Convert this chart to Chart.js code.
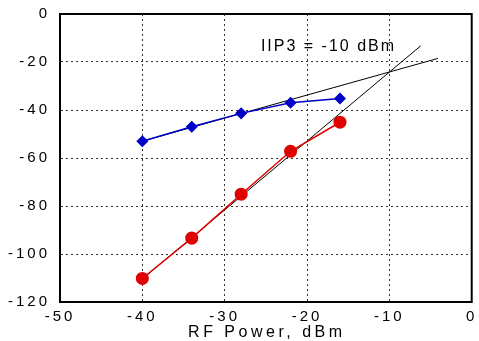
<!DOCTYPE html>
<html>
<head>
<meta charset="utf-8">
<script src="https://cdn.jsdelivr.net/npm/chart.js"></script>
<style>
  html, body { margin: 0; padding: 0; background: #fff; }
  #wrap { width: 479px; height: 341px; position: relative; }
</style>
</head>
<body>
<div id="wrap"><canvas id="chart"></canvas></div>
<script>
// measured output power vs RF input power
const inputPower = [-40, -34, -28, -22, -16];
const fundamental = [-53, -47, -41.4, -37, -35.2];
const thirdOrder = [-110.2, -93.4, -75.1, -57.2, -45.1];

// extrapolated fits (end points)
const fundFitX = [-40, -4.1];
const fundFitY = [-53, -18.5];
const im3FitX = [-40, -6.2];
const im3FitY = [-110.4, -13.3];

const xTicks = [-50, -40, -30, -20, -10, 0];
const yTicks = [-120, -100, -80, -60, -40, -20, 0];
const note = { x: -25.6, y: -13.5, text: 'IIP3 = -10 dBm' };
const xTitle = 'RF Power, dBm';

const FONT = 'Liberation Sans, Arial, sans-serif';

function pts(xs, ys) {
  return xs.map((x, i) => ({ x, y: ys[i] }));
}

// canvas text in the original is spaced out a bit
const spacing = {
  id: 'spacing',
  beforeDraw(chart) { chart.ctx.letterSpacing = '3px'; },
};

const labels = {
  id: 'labels',
  afterDatasetsDraw(chart) {
    const { ctx, scales, chartArea: a } = chart;
    ctx.save();
    ctx.letterSpacing = '2px';
    ctx.font = '16px ' + FONT;
    ctx.fillStyle = '#000';
    ctx.textBaseline = 'middle';
    ctx.textAlign = 'left';
    ctx.fillText(note.text, scales.x.getPixelForValue(note.x), scales.y.getPixelForValue(note.y));
    ctx.restore();

    // frame
    ctx.save();
    ctx.strokeStyle = '#000';
    ctx.lineWidth = 2;
    ctx.strokeRect(a.left, a.top, a.right - a.left, a.bottom - a.top);
    ctx.restore();
  },
  afterDraw(chart) {
    const { ctx, chartArea: a } = chart;
    ctx.save();
    ctx.letterSpacing = '3.5px';
    ctx.font = '16px ' + FONT;
    ctx.fillStyle = '#000';
    ctx.textBaseline = 'middle';
    ctx.textAlign = 'center';
    ctx.fillText(xTitle, (a.left + a.right) / 2 + 1, 333);
    ctx.restore();
  },
};

const cfg = {
  type: 'scatter',
  data: {
    datasets: [
      {
        label: 'fund fit', data: pts(fundFitX, fundFitY), showLine: true,
        borderColor: '#000', borderWidth: 1, pointRadius: 0, order: 3,
      },
      {
        label: 'im3 fit', data: pts(im3FitX, im3FitY), showLine: true,
        borderColor: '#000', borderWidth: 1, pointRadius: 0, order: 3,
      },
      {
        label: 'fundamental', data: pts(inputPower, fundamental), showLine: true,
        borderColor: '#0000c8', backgroundColor: '#0000c8', borderWidth: 1.5,
        pointStyle: 'rectRot', pointRadius: 5, order: 1,
      },
      {
        label: 'IM3', data: pts(inputPower, thirdOrder), showLine: true,
        borderColor: '#e00000', backgroundColor: '#e00000', borderWidth: 1.5,
        pointStyle: 'circle', pointRadius: 5.8, order: 2,
      },
    ],
  },
  options: {
    responsive: true,
    maintainAspectRatio: false,
    animation: false,
    events: [],
    // right padding: Chart.js adds ~2px of its own
    layout: { padding: { top: 14, right: 1, left: 0, bottom: 0 } },
    plugins: { legend: { display: false }, tooltip: { enabled: false } },
    scales: {
      x: {
        type: 'linear', min: -50, max: 0,
        afterBuildTicks: (s) => { s.ticks = xTicks.map((v) => ({ value: v })); },
        afterFit: (s) => { s.height = 39; s.paddingLeft = 0; s.paddingRight = 0; },
        grid: { color: '#333', lineWidth: 1, drawTicks: false },
        border: { display: true, color: '#000', width: 2, dash: [2, 3] },
        ticks: { color: '#000', font: { family: FONT, size: 15 }, padding: 6, maxRotation: 0 },
      },
      y: {
        type: 'linear', min: -120, max: 0,
        afterBuildTicks: (s) => { s.ticks = yTicks.map((v) => ({ value: v })); },
        afterFit: (s) => { s.width = 60; s.paddingTop = 0; s.paddingBottom = 0; },
        grid: { color: '#333', lineWidth: 1, drawTicks: false },
        border: { display: true, color: '#000', width: 2, dash: [2, 3] },
        ticks: { color: '#000', font: { family: FONT, size: 15 }, padding: 10 },
      },
    },
  },
  plugins: [spacing, labels],
};

new Chart(document.getElementById('chart'), cfg);
</script>
</body>
</html>
